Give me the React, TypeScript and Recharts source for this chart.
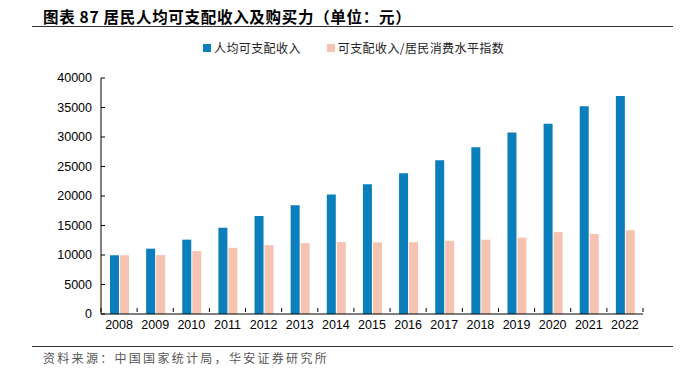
import React from 'react';
import { BarChart, Bar, XAxis, YAxis } from 'recharts';

const years = ['2008','2009','2010','2011','2012','2013','2014','2015','2016','2017','2018','2019','2020','2021','2022'];
const income = [9957, 11070, 12600, 14600, 16600, 18420, 20250, 22000, 23850, 26050, 28250, 30780, 32250, 35200, 36950];
const purchasingPower = [9957, 9980, 10650, 11220, 11680, 12020, 12180, 12150, 12160, 12420, 12600, 12940, 13880, 13560, 14200];
const yTicks = [0, 5000, 10000, 15000, 20000, 25000, 30000, 35000, 40000];

const seriesNames = ['人均可支配收入', '可支配收入/居民消费水平指数'];
const title = '图表 87 居民人均可支配收入及购买力（单位：元）';
const source = '资料来源：中国国家统计局，华安证券研究所';

const BLUE = '#0b7fbc';
const PINK = '#f5c3b0';

const data = years.map((y, i) => ({ year: y, income: income[i], pp: purchasingPower[i] }));

const CJK = '"Noto Sans CJK SC", "Noto Sans", sans-serif';
const LATIN = '"Liberation Sans", Arial, sans-serif';

const XTick = (props: any) => {
  const { x, y, payload, index } = props;
  const half = 542 / years.length / 2;
  const axisY = y - 8;
  return (
    <g>
      <line x1={x - half} x2={x - half} y1={axisY} y2={axisY - 4} stroke="#000" strokeWidth={1} />
      {index === years.length - 1 && (
        <line x1={x + half} x2={x + half} y1={axisY} y2={axisY - 4} stroke="#000" strokeWidth={1} />
      )}
      <text x={x} y={axisY + 17} textAnchor="middle" fontSize={12.5} fontFamily={LATIN} fill="#000">
        {payload.value}
      </text>
    </g>
  );
};

export default function App() {
  return (
    <div style={{ position: 'absolute', left: 0, top: 0, width: 687, height: 377, background: '#fff', overflow: 'hidden' }}>
      <div style={{ position: 'absolute', left: 43, top: 6, fontFamily: CJK, fontWeight: 700, fontSize: 15.5, letterSpacing: 0.7, lineHeight: '20px', color: '#000', whiteSpace: 'nowrap' }}>
        {title}
      </div>
      <div style={{ position: 'absolute', left: 32, top: 26, width: 641, height: 1, background: '#333' }} />

      <div style={{ position: 'absolute', left: 203, top: 40, display: 'flex', alignItems: 'center', fontFamily: CJK, fontSize: 12, letterSpacing: 0.4, color: '#222', whiteSpace: 'nowrap', lineHeight: '16px' }}>
        <span style={{ display: 'inline-block', width: 8, height: 8, background: BLUE, marginRight: 3 }} />
        <span>{seriesNames[0]}</span>
        <span style={{ display: 'inline-block', width: 8, height: 8, background: PINK, marginLeft: 26, marginRight: 3 }} />
        <span>{seriesNames[1]}</span>
      </div>

      <div style={{ position: 'absolute', left: 0, top: 0 }}>
        <BarChart
          width={687}
          height={377}
          data={data}
          margin={{ top: 78, right: 44, bottom: 43, left: 0 }}
          barGap={1}
          barSize={9}
        >
          <XAxis
            dataKey="year"
            height={20}
            axisLine={{ stroke: '#000', strokeWidth: 1 }}
            tickLine={false}
            tick={<XTick />}
            interval={0}
            tickMargin={0}
          />
          <YAxis
            width={101}
            domain={[0, 40000]}
            ticks={yTicks}
            interval={0}
            axisLine={{ stroke: '#000', strokeWidth: 1 }}
            tickLine={{ stroke: '#000' }}
            tickSize={-4}
            tickMargin={13}
            tick={{ fontSize: 12.5, fontFamily: LATIN, fill: '#000' }}
          />
          <Bar dataKey="income" name={seriesNames[0]} fill={BLUE} isAnimationActive={false} />
          <Bar dataKey="pp" name={seriesNames[1]} fill={PINK} isAnimationActive={false} />
        </BarChart>
      </div>

      <div style={{ position: 'absolute', left: 32, top: 346, width: 641, height: 1, background: '#333' }} />
      <div style={{ position: 'absolute', left: 43, top: 349, fontFamily: CJK, fontSize: 12, letterSpacing: 2.3, lineHeight: '17px', color: '#555', whiteSpace: 'nowrap' }}>
        {source}
      </div>
    </div>
  );
}
